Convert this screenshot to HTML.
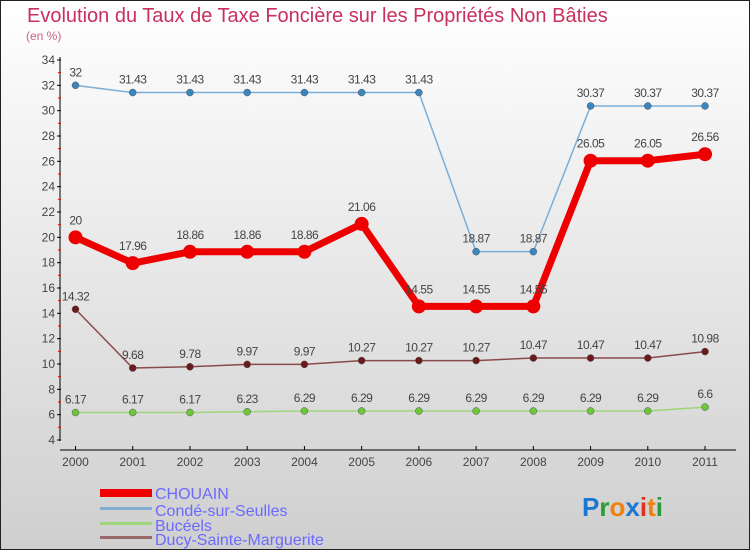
<!DOCTYPE html>
<html><head><meta charset="utf-8"><style>
body{margin:0}
#c{width:750px;height:550px;position:relative;overflow:hidden}
svg text{font-family:"Liberation Sans",sans-serif}
</style></head><body>
<div id="c">
<svg id="s" width="750" height="550" xmlns="http://www.w3.org/2000/svg">
<defs><linearGradient id="bg" x1="0" y1="0" x2="0" y2="1"><stop offset="0" stop-color="#ffffff"/><stop offset="1" stop-color="#cfcfcf"/></linearGradient></defs>
<rect x="0.5" y="0.5" width="749" height="549" fill="url(#bg)" stroke="#222"/>
<text x="27" y="22" font-size="20" fill="#c8305e">Evolution du Taux de Taxe Foncière sur les Propriétés Non Bâties</text>
<text x="26" y="40" font-size="12" fill="#c8608a">(en %)</text>
<g id="axes"></g><g id="series"></g>
<g>
<rect x="100" y="489" width="52" height="8" fill="#ee0000"/>
<text x="155" y="499" font-size="16" fill="#6a6aff">CHOUAIN</text>
<rect x="100" y="507" width="52" height="3" fill="#80acd0"/>
<text x="155" y="516" font-size="16" fill="#6a6aff">Condé-sur-Seulles</text>
<rect x="100" y="522" width="52" height="3" fill="#9ed67a"/>
<text x="155" y="531" font-size="16" fill="#6a6aff">Bucéels</text>
<rect x="100" y="536" width="52" height="3" fill="#9a6a6a"/>
<text x="155" y="545" font-size="16" fill="#6a6aff">Ducy-Sainte-Marguerite</text>
</g>
<g font-size="26" font-weight="bold">
<text x="582" y="516"><tspan fill="#1a78d0">P</tspan><tspan fill="#2a9a3a">r</tspan><tspan fill="#f08010">o</tspan><tspan fill="#1a78d0">x</tspan><tspan fill="#e03020">i</tspan><tspan fill="#f08010">t</tspan><tspan fill="#2a9a3a">i</tspan></text>
</g>
</svg></div>
<script>
const years=[2000,2001,2002,2003,2004,2005,2006,2007,2008,2009,2010,2011];
const chouain=[20,17.96,18.86,18.86,18.86,21.06,14.55,14.55,14.55,26.05,26.05,26.56];
const conde=[32,31.43,31.43,31.43,31.43,31.43,31.43,18.87,18.87,30.37,30.37,30.37];
const buceels=[6.17,6.17,6.17,6.23,6.29,6.29,6.29,6.29,6.29,6.29,6.29,6.6];
const ducy=[14.32,9.68,9.78,9.97,9.97,10.27,10.27,10.27,10.47,10.47,10.47,10.98];
const yTicks=[4,6,8,10,12,14,16,18,20,22,24,26,28,30,32,34];
const NS="http://www.w3.org/2000/svg";
const X=i=>75.5+i*57.23;
const Y=v=>440-(v-4)*12.667;
function mk(t,a,p){const e=document.createElementNS(NS,t);for(const k in a)e.setAttribute(k,a[k]);p.appendChild(e);return e;}
const ax=document.getElementById('axes');
let e=mk('line',{x1:60,y1:57,x2:60,y2:441,stroke:'#000'},ax);


e=mk('line',{x1:60,y1:450,x2:736,y2:450,stroke:'#000'},ax);


yTicks.forEach(v=>{
 mk('line',{x1:57,y1:Y(v),x2:61,y2:Y(v),stroke:'#000'},ax);
 if(v<34)mk('line',{x1:58,y1:Y(v+1),x2:61,y2:Y(v+1),stroke:'#e00'},ax);
 const t=mk('text',{x:55,y:Y(v)+4,'font-size':12,fill:'#444','text-anchor':'end'},ax);t.textContent=v;
 
 
});
years.forEach((y,i)=>{
 mk('line',{x1:X(i),y1:446,x2:X(i),y2:450,stroke:'#000'},ax);
 const t=mk('text',{x:X(i),y:466,'font-size':12,fill:'#444','text-anchor':'middle'},ax);t.textContent=y;
 
 
});
const sg=document.getElementById('series');
function draw(vals,name,col,dot,w,r,lab){
 const g=mk('g',{},sg);
 
 
 mk('polyline',{points:vals.map((v,i)=>X(i)+','+Y(v)).join(' '),fill:'none',stroke:col,'stroke-width':w,'stroke-linejoin':'round'},g);
 vals.forEach((v,i)=>{
  const c=mk('circle',{cx:X(i),cy:Y(v),r:r,fill:dot,stroke:r>5?'none':'#555','stroke-width':0.5},g);
  
  
  const t=mk('text',{x:X(i),y:Y(v)-lab,'font-size':12,fill:'#444','text-anchor':'middle','letter-spacing':'-0.5'},g);t.textContent=v;
  
  
 });
}
draw(buceels,'buceels','#9ed67a','#6cc83a',1.5,3.5,9);
draw(ducy,'ducy','#8a4a4a','#6a1a1a',1.5,3.5,9);
draw(conde,'conde','#7aaed8','#3a86c0',1.5,3.5,9);
draw(chouain,'chouain','#ee0000','#ee0000',7,7,13);
</script>
</body></html>
